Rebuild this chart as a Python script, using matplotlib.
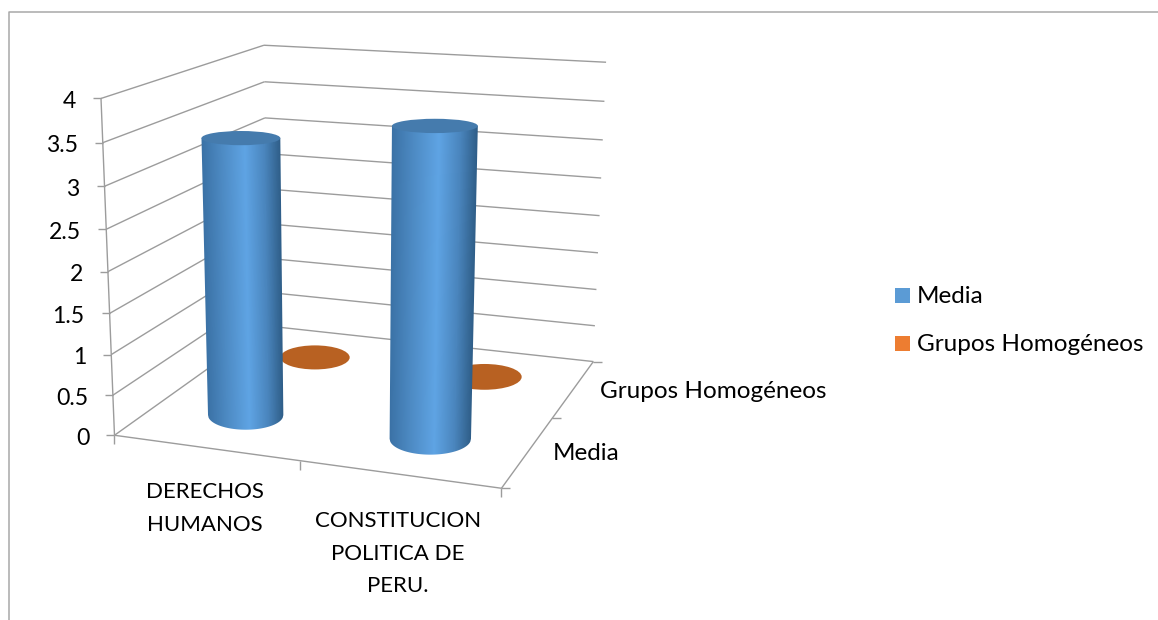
import numpy as np
import matplotlib
matplotlib.use("Agg")
import matplotlib.pyplot as plt
from matplotlib.colors import LinearSegmentedColormap
from matplotlib.patches import Ellipse, Rectangle, Polygon

categories = ["DERECHOS\nHUMANOS", "CONSTITUCION\nPOLITICA DE\nPERU."]
series_names = ["Media", "Grupos Homogéneos"]
media_values = [3.42, 3.71]
grupos_values = [0.02, 0.02]
y_ticks = [0, 0.5, 1, 1.5, 2, 2.5, 3, 3.5, 4]
y_labels = ["0", "0.5", "1", "1.5", "2", "2.5", "3", "3.5", "4"]
y_max = 4

W, H = 1158, 620
GRID = "#9c9c9c"
TEXT = "#000000"
FONT = "Lato"
FS_NUM = 16.6
FS_CAPS = 16.0
FS_TXT = 17.5

# projective camera fitted to the plot box corners (axis fractions -> pixels)
box_u = [0, 1, 0, 1, 0, 0, 1]
box_d = [0, 0, 1, 1, 0, 1, 1]
box_h = [0, 0, 0, 0, 1, 1, 1]
box_x = [114, 502, 268, 593, 101, 264, 606]
box_y = [435, 488, 326, 362, 99, 45, 62]
rows, rhs = [], []
for a, b, c, x, y in zip(box_u, box_d, box_h, box_x, box_y):
    rows.append([a, b, c, 1, 0, 0, 0, 0, -x * a, -x * b, -x * c])
    rows.append([0, 0, 0, 0, a, b, c, 1, -y * a, -y * b, -y * c])
    rhs += [x, y]
cam = np.linalg.lstsq(np.array(rows, float), np.array(rhs, float), rcond=None)[0]
cam = np.append(cam, 1.0).reshape(3, 4)


def proj(u, d, h):
    p = cam @ np.array([u, d, h, 1.0])
    return p[0] / p[2], p[1] / p[2]


fig = plt.figure(figsize=(W / 100, H / 100), dpi=100, facecolor="white")
ax = fig.add_axes([0, 0, 1, 1])
ax.axis("off")


def seg(a, b, off_a=(0, 0), off_b=(0, 0), z=1):
    pa, pb = proj(*a), proj(*b)
    ax.plot([pa[0] + off_a[0], pb[0] + off_b[0]], [pa[1] + off_a[1], pb[1] + off_b[1]],
            color=GRID, lw=1.0, solid_capstyle="butt", zorder=z)


# chart frame
ax.plot([8.5, 8.5, W], [H, 11.5, 11.5], color="#a8a8a8", lw=1.1, zorder=0)

# walls and floor
for v, lab in zip(y_ticks, y_labels):
    h = v / y_max
    seg((0, 0, h), (0, 1, h))
    seg((0, 1, h), (1, 1, h))
    seg((0, 0, h), (0, 0, h), off_a=(-8, 0))
    px, py = proj(0, 0, h)
    ax.text(px - 25, py + 3, lab, ha="right", va="center", family=FONT, fontsize=FS_NUM, color=TEXT)
seg((0, 0, 0), (0, 0, 1))
seg((0, 0, 0), (1, 0, 0))
seg((1, 0, 0), (1, 1, 0))
for t in (0, 0.5, 1):
    seg((t, 0, 0), (t, 0, 0), off_b=(0, 9))
for t in (0, 0.5, 1):
    seg((1, t, 0), (1, t, 0), off_b=(9, 0))

cmap = LinearSegmentedColormap.from_list(
    "cyl", [(0, "#3b72a6"), (0.25, "#4d8ac3"), (0.55, "#5fa4e4"), (0.8, "#4a85bd"), (1, "#2f5e88")])
RU, RD = 0.106, 0.118
TOP_FLAT = 0.85


def half_axes(u, d, h):
    e = 1e-3
    xa, _ = proj(u - e, d, h)
    xb, _ = proj(u + e, d, h)
    _, ya = proj(u, d - e, h)
    _, yb = proj(u, d + e, h)
    return RU * abs(xb - xa) / (2 * e), RD * abs(yb - ya) / (2 * e)


def cylinder(u, d, value, z):
    h = value / y_max
    xb, yb = proj(u, d, 0)
    xt, yt = proj(u, d, h)
    wb, hb = half_axes(u, d, 0)
    wt, ht = half_axes(u, d, h)
    ht *= TOP_FLAT
    fr = np.linspace(0, 1, 121)
    arc = np.sqrt(np.clip(1 - (2 * fr - 1) ** 2, 0, 1))
    bottom = np.column_stack([xb + wb * (2 * fr - 1), yb + hb * arc])
    top_edge = np.array([[xt + wt, yt], [xt - wt, yt]])
    outline = np.vstack([bottom, top_edge])
    x0, x1 = int(min(xb - wb, xt - wt)) - 2, int(max(xb + wb, xt + wt)) + 3
    y0, y1 = int(yt) - 2, int(yb + hb) + 3
    xs, ys = np.meshgrid(np.arange(x0, x1) + 0.5, np.arange(y0, y1) + 0.5)
    s = np.clip((ys - yt) / (yb - yt), 0, 1)
    left = (xt - wt) + s * ((xb - wb) - (xt - wt))
    right = (xt + wt) + s * ((xb + wb) - (xt + wt))
    im = ax.imshow(cmap(np.clip((xs - left) / (right - left), 0, 1)), extent=(x0, x1, y1, y0),
                   interpolation="bilinear", aspect="auto", zorder=z)
    clip = Polygon(outline, closed=True, transform=ax.transData, facecolor="none", edgecolor="none")
    ax.add_patch(clip)
    im.set_clip_path(clip)
    ax.add_patch(Ellipse((xt, yt), 2 * wt, 2 * ht, facecolor="#457bad", edgecolor="none", zorder=z + 0.1))


slots = [0.25, 0.75]
for u, v in zip(slots, grupos_values):
    h = v / y_max
    x, y = proj(u, 0.75, h)
    w, hh = half_axes(u, 0.75, h)
    ax.add_patch(Ellipse((x, y), 2 * w, 2 * hh, facecolor="#b86122", edgecolor="none", zorder=2))
for i, (u, v) in enumerate(zip(slots, media_values)):
    cylinder(u, 0.25, v, 3 + i)

# axis labels
for text, cx, top in zip(categories, (205, 398), (492, 521)):
    for j, line in enumerate(text.split("\n")):
        ax.text(cx, top + 32.7 * j, line, ha="center", va="center", family=FONT, fontsize=FS_CAPS, color=TEXT)
ax.text(600, 391, series_names[1], ha="left", va="center", family=FONT, fontsize=FS_TXT, color=TEXT)
ax.text(553, 454, series_names[0], ha="left", va="center", family=FONT, fontsize=FS_TXT, color=TEXT)

# legend
for name, col, yc in zip(series_names, ("#5b9bd5", "#ed7d31"), (295.5, 343.5)):
    ax.add_patch(Rectangle((895, yc - 7.5), 15, 15, facecolor=col, edgecolor="none"))
    ax.text(917, yc + 1, name, ha="left", va="center", family=FONT, fontsize=FS_TXT, color=TEXT)

ax.set_xlim(0, W)
ax.set_ylim(H, 0)
fig.savefig("out.png", dpi=100)
